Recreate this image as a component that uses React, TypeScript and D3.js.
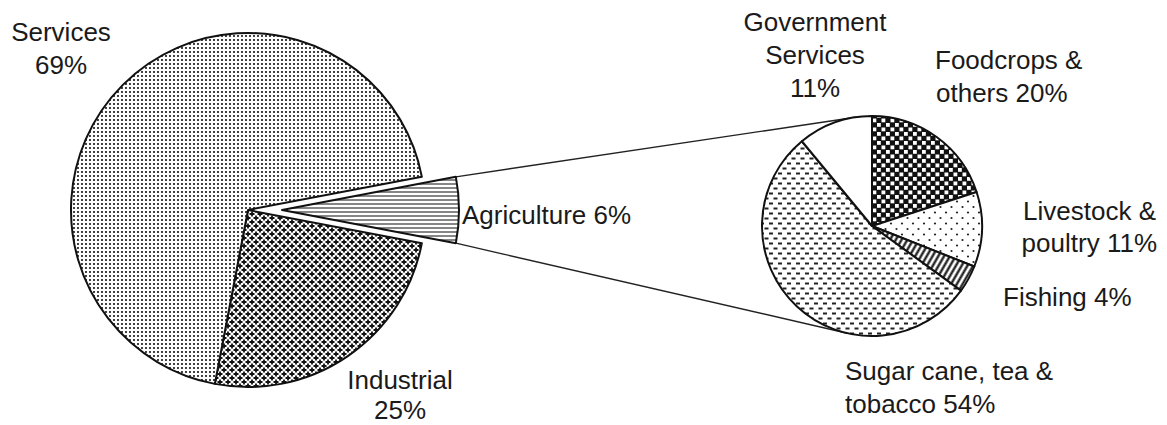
import * as d3 from 'd3'

// left pie: share of GDP
const mainLabels = ['Agriculture', 'Industrial', 'Services']
const mainValues = [6, 25, 69]
// right pie: breakdown of agriculture
const subLabels = ['Foodcrops & others', 'Livestock & poultry', 'Fishing', 'Sugar cane, tea & tobacco', 'Government Services']
const subValues = [20, 11, 4, 54, 11]

const W = 1167
const H = 425
const FONT = '"Liberation Sans", Arial, Helvetica, sans-serif'

const mainFills = ['url(#hlines)', 'url(#plus)', 'url(#dots)']
const subFills = ['url(#checks)', 'url(#sparse)', 'url(#diag)', 'url(#dashes)', '#fff']

const tangent = (p: number[], c: number[], r: number, side: number) => {
  const dx = p[0] - c[0]
  const dy = p[1] - c[1]
  const d = Math.hypot(dx, dy)
  const th = Math.atan2(dy, dx) + side * Math.acos(r / d)
  return [c[0] + r * Math.cos(th), c[1] + r * Math.sin(th)]
}

export default function App() {
  const c1 = [248, 210]
  const r1 = 177
  const explode = 34
  const c2 = [872, 226]
  const r2 = 110

  const half = (mainValues[0] / d3.sum(mainValues)) * Math.PI
  const pie1 = d3.pie<number>().sort(null).startAngle(Math.PI / 2 - half).endAngle(Math.PI / 2 - half + 2 * Math.PI)
  const arcs1 = pie1(mainValues)
  const arc1 = d3.arc<d3.PieArcDatum<number>>().innerRadius(0).outerRadius(r1)

  const pie2 = d3.pie<number>().sort(null)
  const arcs2 = pie2(subValues)
  const arc2 = d3.arc<d3.PieArcDatum<number>>().innerRadius(0).outerRadius(r2)

  // exploded agriculture corners
  const ag = arcs1[0]
  const ax = c1[0] + explode
  const corner = (a: number) => [ax + r1 * Math.sin(a), c1[1] - r1 * Math.cos(a)]
  const top = corner(ag.startAngle)
  const bot = corner(ag.endAngle)
  const tTop = tangent(top, c2, r2, 1)
  const tBot = tangent(bot, c2, r2, -1)

  const txt = { fontFamily: FONT, fontSize: 26, fill: '#1a1a1a' }

  return (
    <svg width={W} height={H} style={{ position: 'absolute', left: 0, top: 0, background: '#fff' }}>
      <defs>
        <pattern id="dots" width="4" height="4" patternUnits="userSpaceOnUse">
          <rect width="4" height="4" fill="#fff" />
          <circle cx="2" cy="2" r="1.05" fill="#111" />
        </pattern>
        <pattern id="plus" width="8" height="8" patternUnits="userSpaceOnUse">
          <rect width="8" height="8" fill="#fff" />
          <path d="M-2.5,0H2.5M0,-2.5V2.5M5.5,8H10.5M8,5.5V10.5M5.5,0H10.5M8,-2.5V2.5M-2.5,8H2.5M0,5.5V10.5M1.5,4H6.5M4,1.5V6.5" stroke="#111" strokeWidth="1.8" />
        </pattern>
        <pattern id="hlines" width="4" height="4" patternUnits="userSpaceOnUse">
          <rect width="4" height="4" fill="#fff" />
          <line x1="0" x2="4" y1="2" y2="2" stroke="#222" strokeWidth="1.1" />
        </pattern>
        <pattern id="checks" width="9" height="9" patternUnits="userSpaceOnUse">
          <rect width="9" height="9" fill="#111" />
          <rect x="0.5" y="0.5" width="3.8" height="3.8" fill="#fff" />
          <rect x="5" y="5" width="3.8" height="3.8" fill="#fff" />
        </pattern>
        <pattern id="sparse" width="11" height="11" patternUnits="userSpaceOnUse">
          <rect width="11" height="11" fill="#fff" />
          <circle cx="2.5" cy="3" r="1.1" fill="#222" />
          <circle cx="8" cy="8.5" r="1.1" fill="#222" />
        </pattern>
        <pattern id="diag" width="5" height="5" patternUnits="userSpaceOnUse" patternTransform="rotate(30)">
          <rect width="5" height="5" fill="#fff" />
          <line x1="2.5" x2="2.5" y1="0" y2="5" stroke="#111" strokeWidth="2.2" />
        </pattern>
        <pattern id="dashes" width="9" height="10" patternUnits="userSpaceOnUse">
          <rect width="9" height="10" fill="#fff" />
          <rect x="0.5" y="1.5" width="4" height="2" fill="#222" />
          <rect x="5" y="6.5" width="4" height="2" fill="#222" />
        </pattern>
      </defs>

      {/* connector lines */}
      <line x1={top[0]} y1={top[1]} x2={tTop[0]} y2={tTop[1]} stroke="#222" strokeWidth={1.4} />
      <line x1={bot[0]} y1={bot[1]} x2={tBot[0]} y2={tBot[1]} stroke="#222" strokeWidth={1.4} />

      {/* left pie */}
      <g>
        {arcs1.map((d, i) => (
          <path
            key={mainLabels[i]}
            d={arc1(d) || ''}
            transform={`translate(${i === 0 ? c1[0] + explode : c1[0]},${c1[1]})`}
            fill={mainFills[i]}
            stroke="#111"
            strokeWidth={2}
            strokeLinejoin="round"
          />
        ))}
      </g>

      {/* right pie */}
      <g transform={`translate(${c2[0]},${c2[1]})`}>
        {arcs2.map((d, i) => (
          <path key={subLabels[i]} d={arc2(d) || ''} fill={subFills[i]} stroke="#111" strokeWidth={2} strokeLinejoin="round" />
        ))}
      </g>

      {/* labels */}
      <text {...txt} textAnchor="middle">
        <tspan x={61} y={41}>Services</tspan>
        <tspan x={61} y={74}>{mainValues[2]}%</tspan>
      </text>
      <text {...txt} textAnchor="middle" x={400} y={389}>
        Industrial
      </text>
      <text {...txt} textAnchor="middle" x={400} y={419}>
        {mainValues[1]}%
      </text>
      <text {...txt} x={462} y={224}>
        {mainLabels[0]} {mainValues[0]}%
      </text>

      <text {...txt} textAnchor="middle">
        <tspan x={815} y={31}>Government</tspan>
        <tspan x={815} y={64}>Services</tspan>
        <tspan x={815} y={97}>{subValues[4]}%</tspan>
      </text>
      <text {...txt}>
        <tspan x={935} y={69}>Foodcrops &amp;</tspan>
        <tspan x={936} y={102}>others {subValues[0]}%</tspan>
      </text>
      <text {...txt} textAnchor="end">
        <tspan x={1156} y={220}>Livestock &amp;</tspan>
        <tspan x={1157} y={252}>poultry {subValues[1]}%</tspan>
      </text>
      <text {...txt} x={1003} y={306}>
        {subLabels[2]} {subValues[2]}%
      </text>
      <text {...txt}>
        <tspan x={845} y={380}>Sugar cane, tea &amp;</tspan>
        <tspan x={845} y={413}>tobacco {subValues[3]}%</tspan>
      </text>
    </svg>
  )
}
